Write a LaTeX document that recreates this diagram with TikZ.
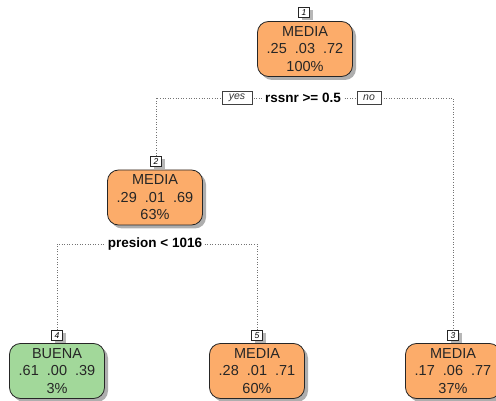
\documentclass[tikz,border=0pt]{standalone}
\usepackage{fontspec}
\setmainfont{Liberation Sans}
\usetikzlibrary{shadows}
\definecolor{orng}{RGB}{252,172,106}
\definecolor{grn}{RGB}{162,216,154}
\tikzset{
  leaf/.style={draw=black!85, line width=0.8pt, rounded corners=11pt,
    minimum width=95pt, minimum height=55pt, inner sep=0pt, align=center,
    font=\fontsize{14.5}{17.5}\selectfont, text=black!85,
    drop shadow={shadow xshift=3.5pt, shadow yshift=-3.5pt, fill=black!45, opacity=0.7}},
  numbox/.style={draw=black!85, fill=white, line width=0.6pt, minimum width=11pt,
    minimum height=10pt, inner sep=0pt, font=\fontsize{8.5}{8.5}\selectfont\itshape,
    drop shadow={shadow xshift=3pt, shadow yshift=-2pt, fill=black!40, opacity=0.7}},
  tag/.style={draw=black!75, fill=white, line width=0.5pt, minimum height=13pt,
    inner sep=0pt, font=\fontsize{10.5}{10.5}\selectfont\itshape, text=black!80},
  cond/.style={fill=white, inner sep=2pt, font=\fontsize{13.5}{13.5}\selectfont\bfseries},
  dotline/.style={draw=black!55, line width=0.9pt, dash pattern=on 1pt off 1.6pt},
}
\begin{document}
\begin{tikzpicture}[x=1pt,y=-1pt]
\useasboundingbox (0,0) rectangle (496,401);
% split lines
\coordinate (s1l) at (155,98);
\coordinate (s1r) at (453,98);
\coordinate (s2l) at (57,244);
\coordinate (s2r) at (257,244);
% nodes
\node[leaf, fill=orng] (n1) at (305,49) {MEDIA\\.25\ \ .03\ \ .72\\100\%};
\node[numbox, anchor=south] (l1) at (304,18) {1};
\node[leaf, fill=orng] (n2) at (155,197.5) {MEDIA\\.29\ \ .01\ \ .69\\63\%};
\node[numbox, anchor=south] (l2) at (156,167) {2};
\node[leaf, fill=grn] (n4) at (57,371) {BUENA\\.61\ \ .00\ \ .39\\3\%};
\node[numbox, anchor=south] (l4) at (57,341) {4};
\node[leaf, fill=orng] (n5) at (257,371) {MEDIA\\.28\ \ .01\ \ .71\\60\%};
\node[numbox, anchor=south] (l5) at (257,341) {5};
\node[leaf, fill=orng] (n3) at (453,371) {MEDIA\\.17\ \ .06\ \ .77\\37\%};
\node[numbox, anchor=south] (l3) at (453,341) {3};
% split 1
\draw[dotline] (l2.north) |- (s1r) -- (l3.north);
\node[tag, minimum width=30pt] (yes) at (237,98) {yes};
\node[tag, minimum width=24pt] (no) at (369,98) {no};
\node[cond] (c1) at (303,98) {rssnr >= 0.5};
% split 2
\draw[dotline] (l4.north) |- (s2r) -- (l5.north);
\node[cond] (c2) at (155,244) {presion < 1016};
\end{tikzpicture}
\end{document}
